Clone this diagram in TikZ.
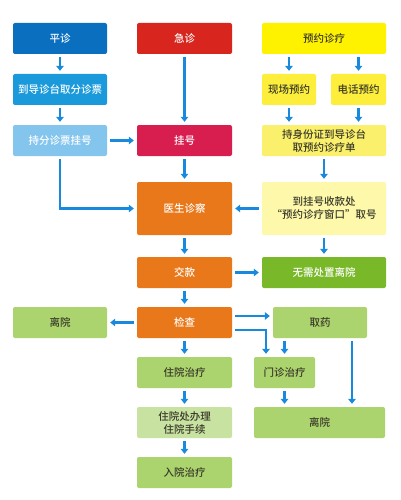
\documentclass[tikz,border=0pt]{standalone}
\usepackage{fontspec}
\setmainfont{Noto Sans CJK SC}[BoldFont={Noto Sans CJK SC Medium}]
\usetikzlibrary{arrows.meta}
\definecolor{cpz}{HTML}{0B6FBF}
\definecolor{cdd}{HTML}{1A9ADB}
\definecolor{ccf}{HTML}{84C5EE}
\definecolor{cjz}{HTML}{D8261E}
\definecolor{cgh}{HTML}{D81D4F}
\definecolor{cyy}{HTML}{FFF200}
\definecolor{cxc}{HTML}{FCEE3A}
\definecolor{csf}{HTML}{FBF06C}
\definecolor{cgs}{HTML}{FDF8AA}
\definecolor{cor}{HTML}{E8781A}
\definecolor{cwx}{HTML}{79B829}
\definecolor{clg}{HTML}{ACD46E}
\definecolor{czb}{HTML}{C8E2A2}
\definecolor{carr}{HTML}{1889DD}
\definecolor{ctxt}{HTML}{3A3A2A}
\tikzset{
  box/.style={rectangle, rounded corners=2pt, inner sep=1pt, align=center,
    font=\fontsize{10.5}{13}\selectfont\bfseries, minimum height=31pt, minimum width=95pt},
  wt/.style={box, text=white},
  dk/.style={box, text=ctxt},
  arr/.style={draw=carr, line width=2.3pt, -{Triangle[length=5pt,width=7.5pt]},
    shorten >=3pt, shorten <=3pt},
}
\begin{document}
\begin{tikzpicture}[x=1pt,y=-1pt]
\useasboundingbox (0,0) rectangle (400,500);
\fill[white] (0,0) rectangle (400,500);
% row 1
\node[wt, fill=cpz, minimum width=94pt] (pz) at (60,38.5) {平诊};
\node[wt, fill=cjz] (jz) at (184.5,38.5) {急诊};
\node[dk, fill=cyy, minimum width=124pt] (yy) at (324,38.5) {预约诊疗};
% row 2
\node[wt, fill=cdd, minimum width=94pt] (dd) at (60,89.5) {到导诊台取分诊票};
\node[dk, fill=cxc, minimum width=54pt] (xc) at (289,89.5) {现场预约};
\node[dk, fill=cxc, minimum width=55pt] (dh) at (358.5,89.5) {电话预约};
% row 3
\node[wt, fill=ccf, minimum width=94pt] (cf) at (60,140.5) {持分诊票挂号};
\node[wt, fill=cgh] (gh) at (184.5,140.5) {挂号};
\node[dk, fill=csf, minimum width=124pt] (sf) at (324,140.5) {持身份证到导诊台\\取预约诊疗单};
% row 4
\node[wt, fill=cor, minimum height=53pt] (ys) at (184.5,208.5) {医生诊察};
\node[dk, fill=cgs, minimum width=124pt, minimum height=53pt] (gs) at (324,208.5) {到挂号收款处\\“预约诊疗窗口”取号};
% row 5
\node[wt, fill=cor] (jk) at (184.5,272.5) {交款};
\node[wt, fill=cwx, minimum width=124pt] (wx) at (324,272.5) {无需处置离院};
% row 6
\node[wt, fill=cor] (jc) at (184.5,322.5) {检查};
\node[dk, fill=clg, minimum width=94pt] (ly1) at (60,322.5) {离院};
\node[dk, fill=clg, minimum width=94pt] (qy) at (320,322.5) {取药};
% row 7
\node[dk, fill=clg] (zy) at (184.5,372.5) {住院治疗};
\node[dk, fill=clg, minimum width=61pt] (mz) at (284.5,372.5) {门诊治疗};
% row 8
\node[dk, fill=czb] (zb) at (184.5,422.5) {住院处办理\\住院手续};
\node[dk, fill=clg, minimum width=131pt] (ly2) at (319.5,422.5) {离院};
% row 9
\node[dk, fill=clg] (ry) at (184.5,472.5) {入院治疗};
% arrows
\draw[arr] (pz) -- (dd);
\draw[arr] (dd) -- (cf);
\draw[arr] (jz) -- (gh);
\draw[arr] (cf) -- (gh);
\draw[arr] (xc.north |- yy.south) -- (xc.north);
\draw[arr] (dh.north |- yy.south) -- (dh.north);
\draw[arr] (xc.south) -- (xc.south |- sf.north);
\draw[arr] (dh.south) -- (dh.south |- sf.north);
\draw[arr] (cf.south) |- (ys.west);
\draw[arr] (gh) -- (ys);
\draw[arr] (sf) -- (gs);
\draw[arr] (gs) -- (ys);
\draw[arr] (ys) -- (jk);
\draw[arr] (gs) -- (wx);
\draw[arr] (jk) -- (wx);
\draw[arr] (jk) -- (jc);
\draw[arr] (jc) -- (ly1);
\draw[arr] ([yshift=6.5pt]jc.east) -- ([yshift=6.5pt]qy.west);
\draw[arr] ([yshift=-7.5pt]jc.east) -| ([xshift=-18.5pt]mz.north);
\draw[arr] (mz.north |- qy.south) -- (mz.north);
\draw[arr] ([xshift=32pt]qy.south) -- ([xshift=32pt]qy.south |- ly2.north);
\draw[arr] (mz.south) -- (mz.south |- ly2.north);
\draw[arr] (jc) -- (zy);
\draw[arr] (zy) -- (zb);
\draw[arr] (zb) -- (ry);
\end{tikzpicture}
\end{document}
